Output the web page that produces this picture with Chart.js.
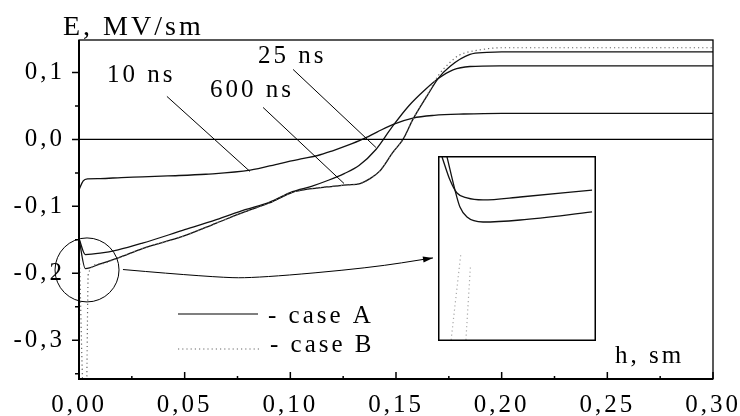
<!DOCTYPE html>
<html><head><meta charset="utf-8">
<script src="https://cdn.jsdelivr.net/npm/chart.js@4.4.1/dist/chart.umd.min.js"></script>
<style>
html,body{margin:0;padding:0;background:#fff;}
#wrap{position:relative;width:740px;height:416px;overflow:hidden;}
#main{position:absolute;left:0;top:0;width:740px;height:416px;}
#inset{position:absolute;left:438px;top:156px;width:158px;height:185px;}
</style></head><body>
<div id="wrap"><canvas id="main" width="740" height="416"></canvas><canvas id="inset" width="158" height="185"></canvas></div>
<script>
// ---------- data (h in sm, E in MV/sm) ----------
const h10 = [0, 0.002, 0.004, 0.01, 0.02, 0.03, 0.042, 0.06, 0.081, 0.095, 0.105, 0.113, 0.12, 0.127, 0.134, 0.141, 0.149, 0.158, 0.168, 0.182, 0.2, 0.25, 0.3];
const e10A = [-0.075, -0.062, -0.059, -0.0585, -0.057, -0.056, -0.0545, -0.052, -0.046, -0.036, -0.029, -0.024, -0.017, -0.009, 0.0, 0.011, 0.023, 0.032, 0.036, 0.038, 0.039, 0.039, 0.039];

const h25 = [0, 0.003, 0.01, 0.0185, 0.03, 0.049, 0.065, 0.0786, 0.09, 0.101, 0.11, 0.118, 0.1255, 0.1325, 0.1405, 0.148, 0.156, 0.164, 0.17, 0.177, 0.185, 0.199, 0.25, 0.3];
const e25A = [-0.148, -0.172, -0.17, -0.165, -0.155, -0.136, -0.12, -0.105, -0.094, -0.078, -0.07, -0.061, -0.051, -0.039, -0.015, 0.018, 0.05, 0.075, 0.091, 0.104, 0.109, 0.11, 0.11, 0.11];

const h600 = [0, 0.003, 0.01, 0.0185, 0.03, 0.049, 0.065, 0.0786, 0.09, 0.101, 0.109, 0.117, 0.127, 0.133, 0.1375, 0.1424, 0.1486, 0.1533, 0.158, 0.1647, 0.1699, 0.1755, 0.185, 0.193, 0.2, 0.25, 0.3];
const e600A = [-0.148, -0.193, -0.186, -0.177, -0.163, -0.145, -0.125, -0.108, -0.095, -0.079, -0.074, -0.071, -0.068, -0.066, -0.059, -0.047, -0.019, 0.0, 0.03, 0.065, 0.091, 0.109, 0.127, 0.13, 0.131, 0.131, 0.131];

const h600B = [0, 0.0024, 0.0034, 0.0044, 0.01, 0.0185, 0.03, 0.049, 0.065, 0.0786, 0.09, 0.101, 0.109, 0.117, 0.127, 0.133, 0.1375, 0.1424, 0.1486, 0.1533, 0.158, 0.1647, 0.1699, 0.1755, 0.18, 0.19, 0.2, 0.25, 0.3];
const e600B = [-0.148, -0.40, -0.40, -0.2, -0.186, -0.177, -0.163, -0.145, -0.125, -0.108, -0.095, -0.079, -0.074, -0.071, -0.068, -0.066, -0.059, -0.047, -0.019, 0.0, 0.03, 0.066, 0.095, 0.115, 0.126, 0.134, 0.137, 0.137, 0.137];

// inset (zoom of the region near h = 0)
const hInUpper = [0.00051, 0.00152, 0.0024, 0.00367, 0.0057, 0.0104, 0.0195];
const eInUpper = [-0.1406, -0.1556, -0.164, -0.1672, -0.1685, -0.1666, -0.1621];
const hInLower = [0.00114, 0.00215, 0.00278, 0.00367, 0.0057, 0.0104, 0.0195];
const eInLower = [-0.1406, -0.1621, -0.1731, -0.1796, -0.1828, -0.1815, -0.1763];
const hInB1 = [0.0016, 0.0029];
const eInB1 = [-0.262, -0.203];
const hInB2 = [0.0035, 0.0041];
const eInB2 = [-0.262, -0.212];

// ticks
const xTickValues = [0, 0.05, 0.10, 0.15, 0.20, 0.25, 0.30];
const xTickLabels = ['0,00', '0,05', '0,10', '0,15', '0,20', '0,25', '0,30'];
const xMinorTicks = [0.025, 0.075, 0.125, 0.175, 0.225, 0.275];
const yTickValues = [-0.3, -0.2, -0.1, 0.0, 0.1];
const yTickLabels = ['-0,3', '-0,2', '-0,1', '0,0', '0,1'];
const yMinorTicks = [-0.35, -0.25, -0.15, -0.05, 0.05];

const seriesLabels = ['10 ns', '25 ns', '600 ns'];
const legendLabels = ['- case A', '- case B'];
const xTitle = 'h, sm';
const yTitle = 'E, MV/sm';

// ---------- annotations (data coordinates) ----------
const ANNOT = {
  labels: [
    {text: seriesLabels[0], h: 0.01325, e: 0.0852},
    {text: seriesLabels[2], h: 0.062, e: 0.0628},
    {text: seriesLabels[1], h: 0.0847, e: 0.1136}
  ],
  pointers: [
    [[0.0416, 0.0643], [0.0809, -0.0478]],
    [[0.0871, 0.0478], [0.1254, -0.0658]],
    [[0.1013, 0.1046], [0.1405, -0.012]]
  ],
  circle: {h: 0.0038, e: -0.195, r: 32},
  arrow: [[0.0208, -0.1944], [0.0653, -0.2067], [0.0857, -0.2067], [0.1377, -0.1919], [0.1675, -0.177]]
};

const zip = (hs, es) => hs.map((h, i) => ({x: h, y: es[i]}));
const FONT = '"Liberation Serif", "Times New Roman", Times, serif';

const solid = (label, data) => ({label, data, borderColor: '#111', borderWidth: 1.3, pointRadius: 0, cubicInterpolationMode: 'monotone', fill: false});
const dotted = (label, data) => ({label, data, borderColor: '#666', borderWidth: 1.2, borderDash: [1.2, 3], pointRadius: 0, cubicInterpolationMode: 'monotone', fill: false});

const decor = {
  id: 'decor',
  beforeUpdate(c) { c.ctx.letterSpacing = '3px'; },
  beforeDraw(c) { c.ctx.letterSpacing = '3px'; },
  afterDraw(c) {
    const {ctx, chartArea: a, scales: {x, y}} = c;
    const px = v => x.getPixelForValue(v), py = v => y.getPixelForValue(v);
    ctx.save();
    ctx.letterSpacing = '0px';
    ctx.strokeStyle = '#000';
    ctx.fillStyle = '#000';
    // frame
    ctx.lineWidth = 1.3;
    ctx.strokeRect(a.left, a.top, a.right - a.left, a.bottom - a.top);
    ctx.lineWidth = 2;
    ctx.beginPath();
    ctx.moveTo(a.left, a.top); ctx.lineTo(a.left, a.bottom); ctx.lineTo(a.right, a.bottom);
    ctx.stroke();
    // zero line
    ctx.lineWidth = 1.3;
    ctx.beginPath(); ctx.moveTo(a.left, py(0)); ctx.lineTo(a.right, py(0)); ctx.stroke();
    // ticks
    ctx.lineWidth = 1.5;
    ctx.beginPath();
    yTickValues.forEach(v => { ctx.moveTo(a.left - 7, py(v)); ctx.lineTo(a.left, py(v)); });
    yMinorTicks.forEach(v => { ctx.moveTo(a.left - 4, py(v)); ctx.lineTo(a.left, py(v)); });
    xTickValues.forEach(v => { ctx.moveTo(px(v), a.bottom); ctx.lineTo(px(v), a.bottom - 7); });
    xMinorTicks.forEach(v => { ctx.moveTo(px(v), a.bottom); ctx.lineTo(px(v), a.bottom - 3); });
    ctx.stroke();
    // pointer lines
    ctx.lineWidth = 1;
    ctx.beginPath();
    ANNOT.pointers.forEach(p => { ctx.moveTo(px(p[0][0]), py(p[0][1])); ctx.lineTo(px(p[1][0]), py(p[1][1])); });
    ctx.stroke();
    // circle
    ctx.beginPath();
    ctx.arc(px(ANNOT.circle.h), py(ANNOT.circle.e), ANNOT.circle.r, 0, Math.PI * 2);
    ctx.stroke();
    // arrow (smooth path through points)
    const ap = ANNOT.arrow.map(p => [px(p[0]), py(p[1])]);
    ctx.beginPath();
    ctx.moveTo(ap[0][0], ap[0][1]);
    for (let i = 1; i < ap.length - 1; i++) {
      const mx = (ap[i][0] + ap[i + 1][0]) / 2, my = (ap[i][1] + ap[i + 1][1]) / 2;
      ctx.quadraticCurveTo(ap[i][0], ap[i][1], mx, my);
    }
    const last = ap[ap.length - 1], prev = ap[ap.length - 2];
    ctx.lineTo(last[0], last[1]);
    ctx.stroke();
    const ang = Math.atan2(last[1] - prev[1], last[0] - prev[0]);
    ctx.beginPath();
    ctx.moveTo(last[0], last[1]);
    ctx.lineTo(last[0] - 10 * Math.cos(ang) + 3 * Math.sin(ang), last[1] - 10 * Math.sin(ang) - 3 * Math.cos(ang));
    ctx.lineTo(last[0] - 10 * Math.cos(ang) - 3 * Math.sin(ang), last[1] - 10 * Math.sin(ang) + 3 * Math.cos(ang));
    ctx.closePath(); ctx.fill();
    // annotation labels
    ctx.letterSpacing = '3px';
    ctx.font = '25px ' + FONT;
    ctx.textAlign = 'left'; ctx.textBaseline = 'alphabetic';
    ANNOT.labels.forEach(l => ctx.fillText(l.text, px(l.h), py(l.e)));
    // legend
    ctx.lineWidth = 1.2;
    ctx.beginPath(); ctx.moveTo(178, 314); ctx.lineTo(258, 314); ctx.stroke();
    ctx.save();
    ctx.strokeStyle = '#666'; ctx.setLineDash([1.2, 3]);
    ctx.beginPath(); ctx.moveTo(178, 349); ctx.lineTo(260, 349); ctx.stroke();
    ctx.restore();
    ctx.fillText(legendLabels[0], 268, 323);
    ctx.fillText(legendLabels[1], 270, 352);
    // axis titles
    ctx.fillText(xTitle, 615, 363);
    ctx.font = '28px ' + FONT;
    ctx.fillText(yTitle, 63, 35);
    ctx.restore();
  }
};

new Chart(document.getElementById('main'), {
  type: 'line',
  data: {
    datasets: [
      dotted('600 ns, case B', zip(h600B, e600B)),
      solid('10 ns, case A', zip(h10, e10A)),
      solid('25 ns, case A', zip(h25, e25A)),
      solid('600 ns, case A', zip(h600, e600A))
    ]
  },
  options: {
    responsive: false, animation: false, devicePixelRatio: 1,
    layout: {padding: {top: 40, right: 27, left: 0, bottom: 0}},
    plugins: {legend: {display: false}, tooltip: {enabled: false}},
    scales: {
      x: {
        type: 'linear', min: 0, max: 0.3,
        afterBuildTicks: s => { s.ticks = xTickValues.map(v => ({value: v})); },
        afterFit: s => { s.height = 37; s.paddingLeft = 0; s.paddingRight = 0; },
        ticks: {
          callback: (v, i) => xTickLabels[i],
          font: {family: FONT, size: 25}, color: '#000', padding: 11, maxRotation: 0, autoSkip: false
        },
        grid: {display: false, drawTicks: false},
        border: {display: false}
      },
      y: {
        type: 'linear', min: -0.358, max: 0.1486,
        afterBuildTicks: s => { s.ticks = yTickValues.map(v => ({value: v})); },
        afterFit: s => { s.width = 79; s.paddingTop = 0; s.paddingBottom = 0; },
        ticks: {
          callback: (v, i) => yTickLabels[i],
          font: {family: FONT, size: 25}, color: '#000', padding: 14, autoSkip: false
        },
        grid: {display: false, drawTicks: false},
        border: {display: false}
      }
    }
  },
  plugins: [decor]
});

// ---------- inset ----------
const insetDecor = {
  id: 'insetDecor',
  beforeDraw(c) {
    const {ctx, width, height} = c;
    ctx.save(); ctx.fillStyle = '#fff'; ctx.fillRect(0, 0, width, height); ctx.restore();
  },
  afterDraw(c) {
    const {ctx, width, height} = c;
    ctx.save(); ctx.strokeStyle = '#000'; ctx.lineWidth = 1.5;
    ctx.strokeRect(0.75, 0.75, width - 1.5, height - 1.5); ctx.restore();
  }
};
new Chart(document.getElementById('inset'), {
  type: 'line',
  data: {
    datasets: [
      Object.assign(dotted('case B', zip(hInB1, eInB1)), {cubicInterpolationMode: 'default', tension: 0, borderColor: '#aaa'}),
      Object.assign(dotted('case B', zip(hInB2, eInB2)), {cubicInterpolationMode: 'default', tension: 0, borderColor: '#aaa'}),
      solid('25 ns', zip(hInUpper, eInUpper)),
      solid('600 ns', zip(hInLower, eInLower))
    ]
  },
  options: {
    responsive: false, animation: false, devicePixelRatio: 1,
    layout: {padding: 0},
    plugins: {legend: {display: false}, tooltip: {enabled: false}},
    scales: {
      x: {type: 'linear', min: 0, max: 0.02, display: false},
      y: {type: 'linear', min: -0.26, max: -0.14, display: false}
    }
  },
  plugins: [insetDecor]
});
</script>
</body></html>
